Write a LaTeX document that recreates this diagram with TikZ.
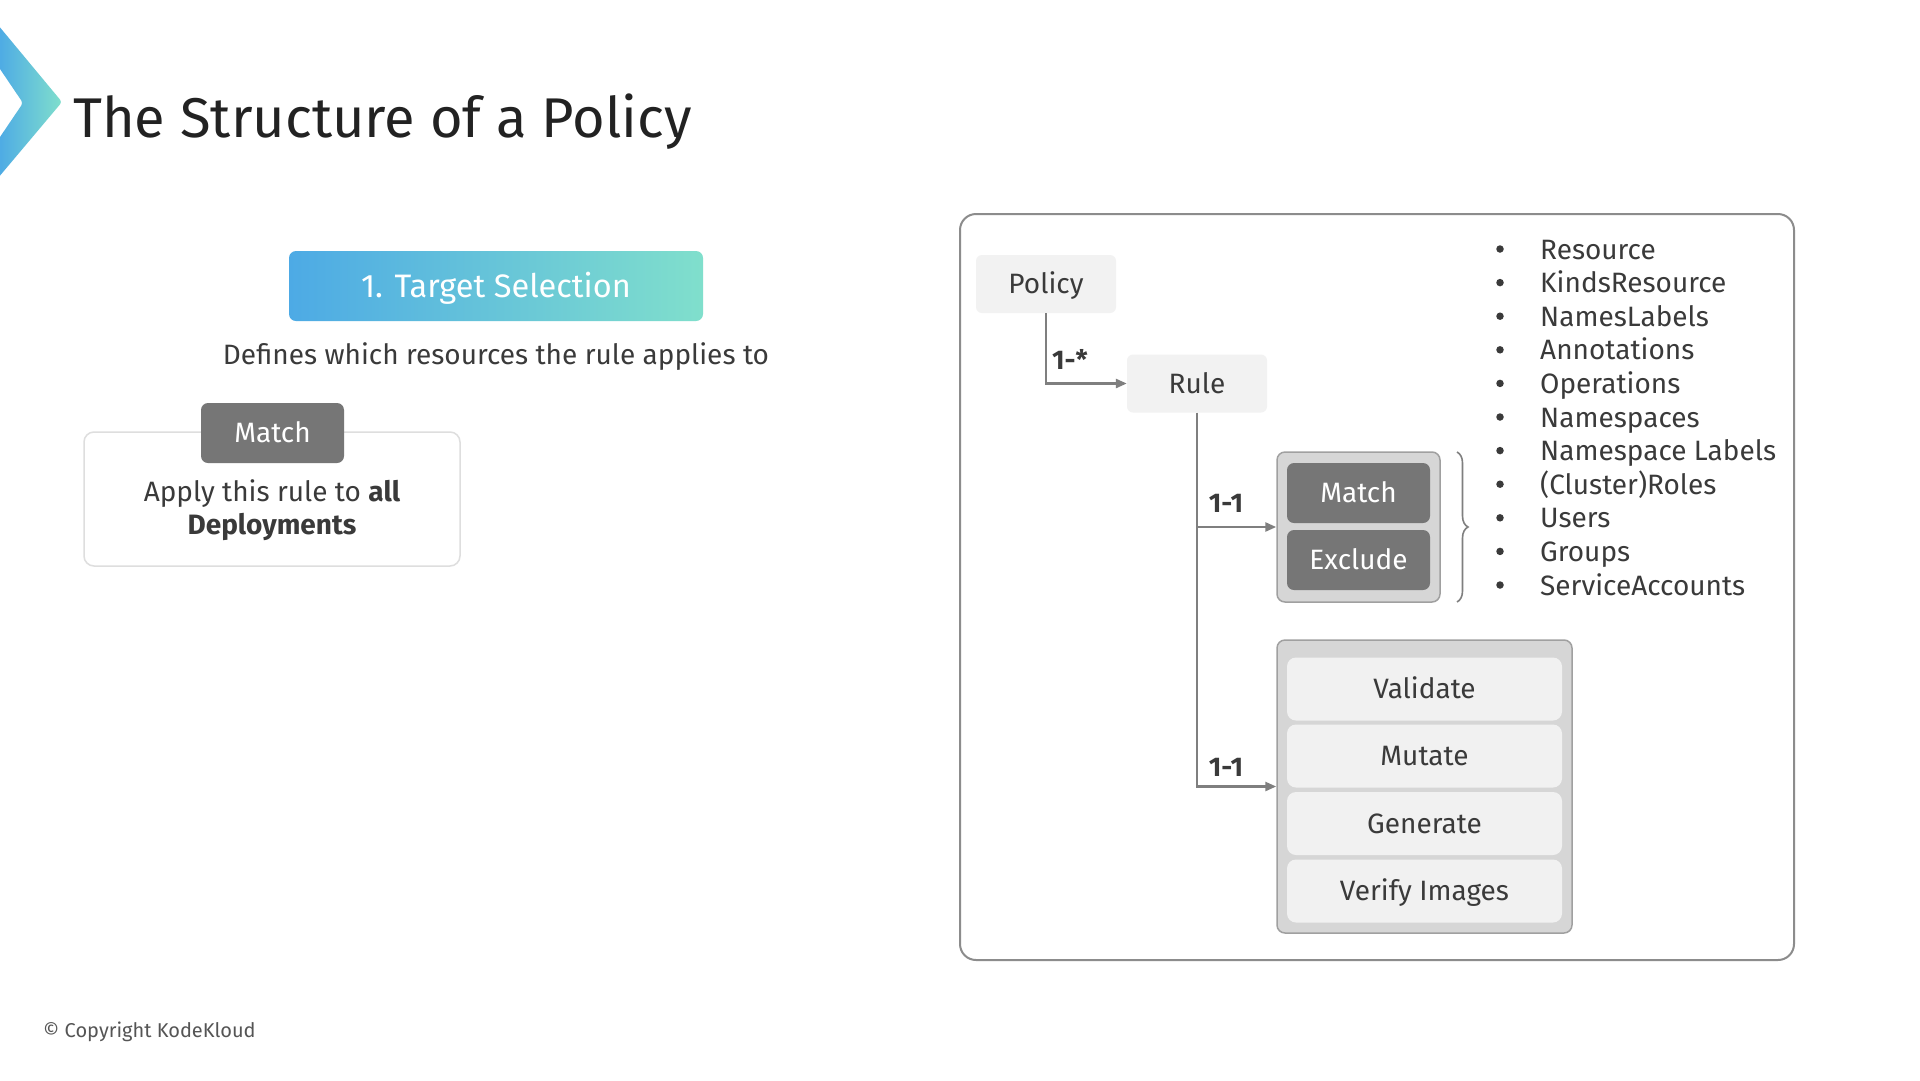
\documentclass[tikz,border=0pt]{standalone}
\usepackage{fontspec}
\setmainfont{Fira Sans}
\usetikzlibrary{arrows.meta,decorations.pathreplacing}
\definecolor{txt}{HTML}{3A3A3A}
\definecolor{ttl}{HTML}{222222}
\definecolor{lightbox}{HTML}{F2F2F2}
\definecolor{tabgray}{HTML}{767676}
\definecolor{grpfill}{HTML}{D6D6D6}
\definecolor{grpline}{HTML}{A0A0A0}
\definecolor{actfill}{HTML}{F1F1F1}
\definecolor{conn}{HTML}{7F7F7F}
\definecolor{panelline}{HTML}{8C8C8C}
\definecolor{gradA}{HTML}{4DAAE5}
\definecolor{gradB}{HTML}{80DFCC}
\definecolor{copy}{HTML}{555555}
\tikzset{
  fnt/.style={font=\fontsize{28}{34}\selectfont},
  capc/.style={text height=19.3pt, text depth=0pt},
  lightnode/.style={fnt, capc, text=txt, fill=lightbox, rounded corners=6pt, minimum width=140pt, minimum height=58pt, inner sep=0pt},
  darknode/.style={fnt, capc, text=white, fill=tabgray, rounded corners=7pt, minimum width=143pt, minimum height=60pt, inner sep=0pt},
  grpbox/.style={fill=grpfill, draw=grpline, line width=1.5pt, rounded corners=8pt, inner sep=0pt},
  actnode/.style={fnt, capc, text=txt, fill=actfill, rounded corners=9pt, minimum width=275pt, minimum height=63pt, inner sep=0pt},
  conline/.style={draw=conn, line width=2.5pt},
  conarrow/.style={conline, -{Triangle[length=11pt,width=9pt]}},
  rel/.style={font=\fontsize{27}{30}\selectfont\bfseries, text=txt, inner sep=0pt},
  bul/.style={circle, fill=txt, minimum size=7.5pt, inner sep=0pt},
  itm/.style={fnt, text=txt, inner sep=0pt, anchor=base west}
}
\begin{document}
\begin{tikzpicture}[x=1pt,y=-1pt]
\useasboundingbox (0,0) rectangle (1920,1080);
\fill[white] (0,0) rectangle (1920,1080);

% chevron
\shade[left color=gradA, right color=gradB, rounded corners=3pt]
  (-2,25) -- (62,102) -- (-2,178) -- (-2,140) -- (23,103) -- (-2,66) -- cycle;

% title
\node[anchor=base west, inner sep=0pt, text=ttl, font=\fontsize{56}{66}\selectfont] (title) at (73,137) {The Structure of a Policy};

% target selection
\node[left color=gradA, right color=gradB, rounded corners=7pt, minimum width=414pt, minimum height=70pt, inner sep=0pt, text=white, text height=22.4pt, text depth=0pt, font=\fontsize{32.5}{38}\selectfont] (target) at (496,286) {1. Target Selection};
\node[fnt, text=txt, inner sep=0pt, anchor=base] (defines) at (496,364) {Defines which resources the rule applies to};

% match example box
\node[draw=black!13, line width=1.5pt, fill=white, rounded corners=10pt, minimum width=376pt, minimum height=134pt, inner sep=0pt] (exbox) at (272,499) {};
\node[darknode, minimum width=143pt, minimum height=60pt] (extab) at (272.5,433) {Match};
\node[fnt, text=txt, align=center, inner sep=0pt] (extext) at (272,510) {Apply this rule to \textbf{all}\\[-1pt]\textbf{Deployments}};

% right panel
\node[draw=panelline, line width=2pt, rounded corners=16pt, minimum width=834pt, minimum height=746pt, inner sep=0pt] (panel) at (1377,587) {};

\node[lightnode] (policy) at (1046,284) {Policy};
\node[lightnode] (rule) at (1197,383.5) {Rule};

\node[grpbox, minimum width=163pt, minimum height=150pt] (me) at (1358.5,527) {};
\node[darknode] (match) at (1358.5,493) {Match};
\node[darknode] (exclude) at (1358.5,560) {Exclude};

\node[grpbox, minimum width=295pt, minimum height=293pt] (act) at (1424.5,786.5) {};
\node[actnode] (validate) at (1424.5,689) {Validate};
\node[actnode] (mutate) at (1424.5,756) {Mutate};
\node[actnode] (generate) at (1424.5,823.5) {Generate};
\node[actnode] (verify) at (1424.5,891) {Verify Images};

% connectors
\draw[conarrow] (policy.south) |- (rule.west);
\node[rel, anchor=west] (l1) at (1052,359) {1-*};
\draw[conarrow] (rule.south) |- (act.west);
\draw[conarrow] (rule.south |- me.west) -- (me.west);
\node[rel] (l2) at (1226,503) {1-1};
\node[rel] (l3) at (1226,767) {1-1};

% brace
\coordinate (bt) at (1457,452);
\coordinate (bb) at (1457,602);
\draw[draw=conn, line width=1.6pt, decorate, decoration={brace, amplitude=11pt}] (bt) -- (bb);

% bullet list
\foreach \t [count=\i from 0] in {Resource, KindsResource, NamesLabels, Annotations, Operations, Namespaces, Namespace Labels, (Cluster)Roles, Users, Groups, ServiceAccounts}{
  \node[bul] (b\i) at (1500,{249+\i*33.6}) {};
  \node[itm] (t\i) at (1540,{259+\i*33.6}) {\t};
}

% copyright
\node[anchor=west, inner sep=0pt, text=copy, font=\fontsize{20}{24}\selectfont] (copyr) at (43,1032) {© Copyright KodeKloud};
\end{tikzpicture}
\end{document}
